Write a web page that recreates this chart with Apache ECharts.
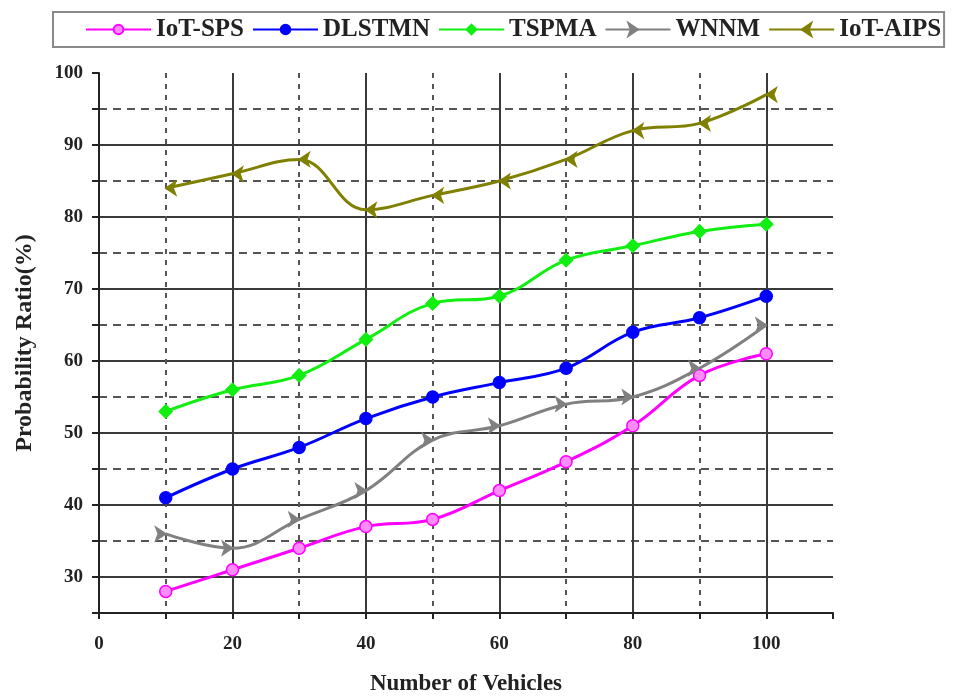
<!DOCTYPE html>
<html>
<head>
<meta charset="utf-8">
<script src="https://cdn.jsdelivr.net/npm/echarts@6/dist/echarts.min.js"></script>
<style>html,body{margin:0;padding:0;background:#fff;}#c{width:958px;height:697px;}</style>
</head>
<body>
<div id="c"></div>
<script>
const vehicles = [10, 20, 30, 40, 50, 60, 70, 80, 90, 100];
const iotSps  = [28, 31, 34, 37, 38, 42, 46, 51, 58, 61];
const dlstmn  = [41, 45, 48, 52, 55, 57, 59, 64, 66, 69];
const tspma   = [53, 56, 58, 63, 68, 69, 74, 76, 78, 79];
const wnnm    = [36, 34, 38, 42, 49, 51, 54, 55, 59, 65];
const iotAips = [84, 86, 88, 81, 83, 85, 88, 92, 93, 97];
const seriesNames = ['IoT-SPS', 'DLSTMN', 'TSPMA', 'WNNM', 'IoT-AIPS'];

const FONT = '"Liberation Serif", "DejaVu Serif", serif';
const SOLID = '#3a3a3a';
const DASH = '#555555';

function pairs(ys) { return vehicles.map((x, i) => [x, ys[i]]); }

function mkSeries(name, ys, color, symbol, rotate, fill, size) {
  return {
    name: name, type: 'line', smooth: 0.4, data: pairs(ys),
    xAxisIndex: 0, yAxisIndex: 0,
    symbol: symbol, symbolSize: size, symbolRotate: rotate,
    lineStyle: { color: color, width: 3 },
    itemStyle: { color: fill, borderColor: color, borderWidth: 1.5 },
    z: 5
  };
}

const chart = echarts.init(document.getElementById('c'));
chart.setOption({
  backgroundColor: '#fff',
  animation: false,
  legend: {
    data: seriesNames,
    left: 53, top: 12,
    padding: [5, 3, 5, 32],
    itemGap: 8, itemWidth: 65, itemHeight: 12,
    borderColor: '#8a8a8a', borderWidth: 2,
    textStyle: { fontFamily: FONT, fontWeight: 'bold', fontSize: 25, color: '#222' }
  },
  grid: { left: 99, right: 125, top: 73, bottom: 84, containLabel: false, outerBoundsMode: 'none' },
  xAxis: [{
    type: 'value', min: 0, max: 110, interval: 10,
    name: 'Number of Vehicles', nameLocation: 'middle', nameGap: 60,
    nameTextStyle: { fontFamily: FONT, fontWeight: 'bold', fontSize: 23, color: '#222' },
    axisLine: { show: true, onZero: false, lineStyle: { color: '#222', width: 2 } },
    axisTick: { show: true, length: 6, lineStyle: { color: '#222', width: 2 } },
    axisLabel: { fontFamily: FONT, fontWeight: 'bold', fontSize: 19, color: '#222', margin: 22,
      formatter: v => (v % 20 === 0 && v <= 100) ? String(v) : '' },
    splitLine: { show: true, lineStyle: { color: [SOLID, 'transparent'], width: 2, type: 'solid' } }
  }, {
    type: 'value', min: 0, max: 110, interval: 10, position: 'bottom',
    axisLine: { show: false }, axisTick: { show: false }, axisLabel: { show: false },
    splitLine: { show: true, showMaxLine: false, lineStyle: { color: ['transparent', DASH], width: 2, type: [5, 6] } }
  }],
  yAxis: [{
    type: 'value', min: 25, max: 100, interval: 5,
    name: 'Probability Ratio(%)', nameLocation: 'middle', nameGap: 62, nameRotate: 90,
    nameTextStyle: { fontFamily: FONT, fontWeight: 'bold', fontSize: 24, color: '#222' },
    axisLine: { show: true, onZero: false, lineStyle: { color: '#222', width: 2 } },
    axisTick: { show: true, length: 7, lineStyle: { color: '#222', width: 2 } },
    axisLabel: { fontFamily: FONT, fontWeight: 'bold', fontSize: 19, color: '#222', margin: 16,
      formatter: v => (v % 10 === 0) ? String(v) : '' },
    splitLine: { show: true, showMaxLine: false, lineStyle: { color: ['transparent', SOLID], width: 2, type: 'solid' } }
  }, {
    type: 'value', min: 25, max: 100, interval: 5, position: 'left',
    axisLine: { show: false }, axisTick: { show: false }, axisLabel: { show: false },
    splitLine: { show: true, lineStyle: { color: [DASH, 'transparent'], width: 2, type: [8, 6] } }
  }],
  series: [
    mkSeries('IoT-SPS', iotSps, '#ff00ff', 'circle', 0, '#ff8cff', 12),
    mkSeries('DLSTMN', dlstmn, '#0000ff', 'circle', 0, '#0000ff', 12),
    mkSeries('TSPMA', tspma, '#11ee11', 'diamond', 0, '#11ee11', 13),
    mkSeries('WNNM', wnnm, '#808080', 'arrow', -90, '#808080', 10),
    mkSeries('IoT-AIPS', iotAips, '#808000', 'arrow', 90, '#808000', 10)
  ]
});
</script>
</body>
</html>
